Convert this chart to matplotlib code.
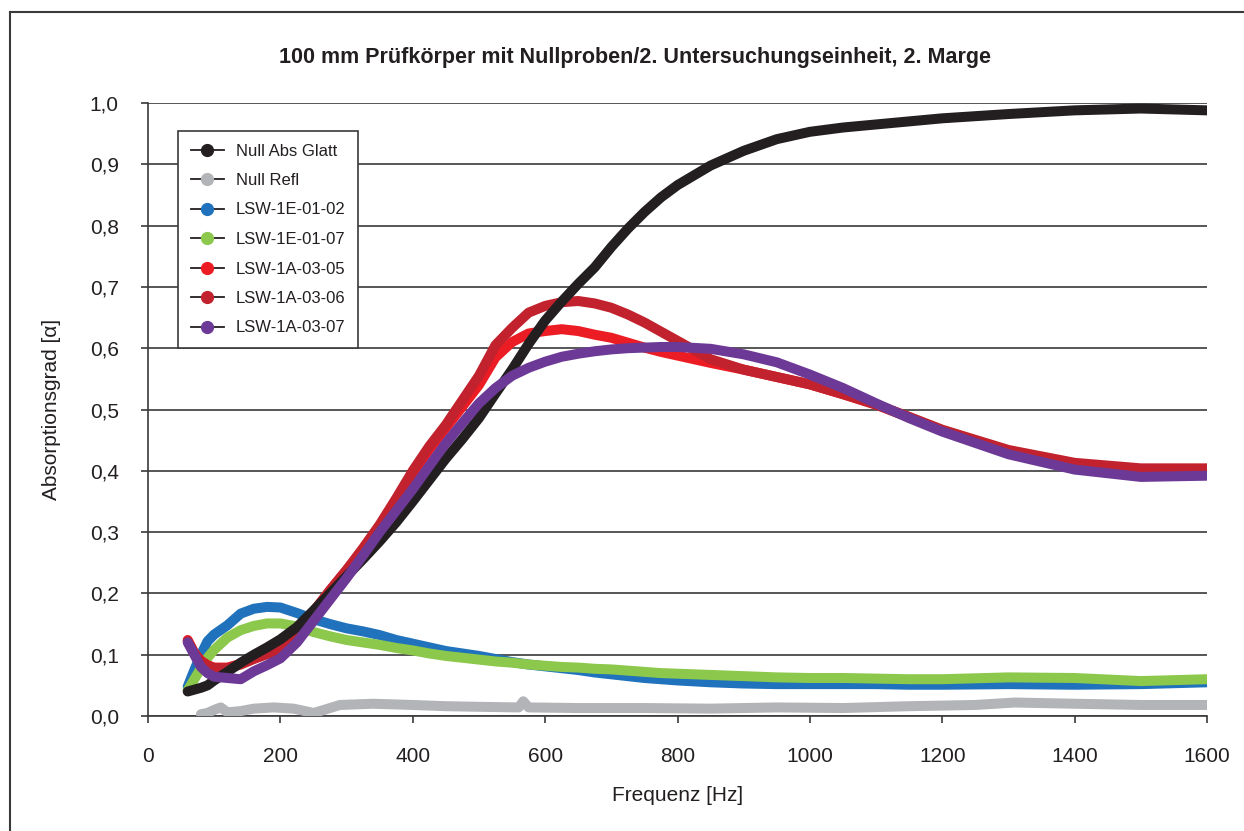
import matplotlib
matplotlib.use("Agg")
import matplotlib.pyplot as plt
from matplotlib.lines import Line2D

plt.rcParams['font.family'] = ['Liberation Sans', 'DejaVu Sans']

# Frequency grid [Hz] shared by the sample series
FREQ = [60, 70, 80, 90, 100, 120, 140, 160, 180, 200, 225, 250, 275, 300, 325, 350,
        375, 400, 425, 450, 475, 500, 525, 550, 575, 600, 625, 650, 675, 700, 725,
        750, 775, 800, 850, 900, 950, 1000, 1050, 1100, 1150, 1200, 1300, 1400,
        1500, 1600]

NULL_ABS_GLATT = [0.040, 0.043, 0.046, 0.050, 0.058, 0.072, 0.087, 0.100, 0.112, 0.125,
                  0.145, 0.172, 0.200, 0.228, 0.256, 0.285, 0.316, 0.350, 0.385, 0.420,
                  0.452, 0.486, 0.526, 0.565, 0.607, 0.645, 0.676, 0.705, 0.732, 0.765,
                  0.795, 0.822, 0.846, 0.866, 0.898, 0.922, 0.941, 0.953, 0.960, 0.965,
                  0.970, 0.975, 0.982, 0.988, 0.991, 0.988]

LSW_1E_01_02 = [0.048, 0.075, 0.100, 0.122, 0.133, 0.148, 0.167, 0.175, 0.178, 0.177,
                0.168, 0.158, 0.150, 0.143, 0.138, 0.132, 0.124, 0.118, 0.112, 0.106,
                0.102, 0.098, 0.093, 0.088, 0.084, 0.081, 0.078, 0.075, 0.071, 0.068,
                0.065, 0.062, 0.060, 0.058, 0.055, 0.053, 0.052, 0.052, 0.052, 0.052,
                0.051, 0.051, 0.052, 0.051, 0.052, 0.055]

LSW_1E_01_07 = [0.042, 0.060, 0.078, 0.095, 0.108, 0.128, 0.140, 0.147, 0.151, 0.151,
                0.146, 0.137, 0.130, 0.124, 0.120, 0.116, 0.111, 0.107, 0.102, 0.098,
                0.095, 0.092, 0.089, 0.087, 0.084, 0.082, 0.080, 0.079, 0.077, 0.076,
                0.074, 0.072, 0.070, 0.069, 0.067, 0.065, 0.063, 0.062, 0.062, 0.061,
                0.060, 0.060, 0.063, 0.062, 0.057, 0.060]

LSW_1A_03_05 = [0.124, 0.103, 0.090, 0.083, 0.079, 0.079, 0.085, 0.094, 0.102, 0.106,
                0.135, 0.170, 0.205, 0.238, 0.272, 0.310, 0.350, 0.395, 0.435, 0.470,
                0.505, 0.540, 0.585, 0.610, 0.624, 0.628, 0.631, 0.628, 0.622, 0.617,
                0.609, 0.601, 0.594, 0.588, 0.576, 0.565, 0.553, 0.541, 0.525, 0.508,
                0.487, 0.466, 0.432, 0.411, 0.402, 0.402]

LSW_1A_03_06 = [0.122, 0.102, 0.089, 0.082, 0.078, 0.078, 0.084, 0.093, 0.101, 0.106,
                0.135, 0.170, 0.205, 0.238, 0.274, 0.312, 0.355, 0.400, 0.440, 0.475,
                0.515, 0.555, 0.605, 0.633, 0.658, 0.669, 0.675, 0.677, 0.673, 0.666,
                0.655, 0.642, 0.627, 0.612, 0.582, 0.565, 0.553, 0.541, 0.525, 0.508,
                0.488, 0.467, 0.434, 0.413, 0.404, 0.404]

LSW_1A_03_07 = [0.120, 0.100, 0.080, 0.070, 0.064, 0.062, 0.060, 0.073, 0.083, 0.094,
                0.120, 0.155, 0.190, 0.225, 0.262, 0.300, 0.335, 0.370, 0.408, 0.445,
                0.478, 0.510, 0.535, 0.555, 0.568, 0.578, 0.586, 0.591, 0.595, 0.598,
                0.600, 0.601, 0.602, 0.602, 0.599, 0.590, 0.577, 0.557, 0.535, 0.510,
                0.486, 0.464, 0.427, 0.402, 0.390, 0.392]

# Reflection series has its own frequency sampling
FREQ_REFL = [80, 90, 100, 110, 120, 140, 160, 190, 220, 250, 260, 290, 340, 400, 450,
             500, 560, 567, 575, 650, 750, 850, 950, 1050, 1150, 1250, 1310, 1400,
             1500, 1600]
NULL_REFL = [0.003, 0.005, 0.010, 0.014, 0.006, 0.008, 0.012, 0.014, 0.012, 0.005,
             0.008, 0.018, 0.020, 0.018, 0.016, 0.015, 0.014, 0.024, 0.014, 0.013,
             0.013, 0.012, 0.014, 0.013, 0.016, 0.018, 0.022, 0.020, 0.018, 0.018]

SERIES = [
    ("Null Abs Glatt", FREQ, NULL_ABS_GLATT, "#231f20"),
    ("Null Refl", FREQ_REFL, NULL_REFL, "#b3b4b7"),
    ("LSW-1E-01-02", FREQ, LSW_1E_01_02, "#1f72bb"),
    ("LSW-1E-01-07", FREQ, LSW_1E_01_07, "#8cc84b"),
    ("LSW-1A-03-05", FREQ, LSW_1A_03_05, "#ec1c24"),
    ("LSW-1A-03-06", FREQ, LSW_1A_03_06, "#c2222d"),
    ("LSW-1A-03-07", FREQ, LSW_1A_03_07, "#6d3996"),
]
# stacking order of the curves (higher is drawn on top)
ZORDER = {"Null Refl": 3.0, "LSW-1E-01-02": 3.1, "LSW-1E-01-07": 3.2,
          "LSW-1A-03-05": 3.3, "LSW-1A-03-06": 3.4, "Null Abs Glatt": 3.5,
          "LSW-1A-03-07": 3.6}

XTICKS = [0, 200, 400, 600, 800, 1000, 1200, 1400, 1600]
YTICKS = [0.0, 0.1, 0.2, 0.3, 0.4, 0.5, 0.6, 0.7, 0.8, 0.9, 1.0]

W, H = 1244, 831
fig = plt.figure(figsize=(W / 100, H / 100), dpi=100)
ax = fig.add_axes([148 / W, 1 - 716 / H, (1207 - 148) / W, (716 - 103) / H])

axis_col = "#3a3a3a"
for name, fx, fy, col in SERIES:
    ax.plot(fx, fy, color=col, lw=7.2, solid_capstyle="round",
            solid_joinstyle="round", zorder=ZORDER[name])

ax.set_xlim(0, 1600)
ax.set_ylim(0, 1.0)
ax.set_xticks(XTICKS)
ax.set_yticks(YTICKS)
ax.set_yticklabels([f"{v:.1f}".replace(".", ",") for v in YTICKS])
ax.grid(axis="y", color=axis_col, lw=1.2)
ax.set_axisbelow(True)
for s in ("top", "right"):
    ax.spines[s].set_visible(False)
for s in ("left", "bottom"):
    ax.spines[s].set_color(axis_col)
    ax.spines[s].set_linewidth(1.2)
ax.tick_params(axis="both", direction="out", length=5, width=1.2,
               color=axis_col, labelsize=15, labelcolor="#231f20")
ax.tick_params(axis="y", pad=16)
ax.tick_params(axis="x", pad=17)

ax.set_xlabel("Frequenz [Hz]", fontsize=15, color="#231f20", labelpad=15)
ax.set_ylabel("Absorptionsgrad [α]", fontsize=15, color="#231f20", labelpad=21)

fig.text(635 / W, 1 - 58 / H,
         "100 mm Prüfkörper mit Nullproben/2. Untersuchungseinheit, 2. Marge",
         ha="center", va="center", fontsize=15.5, fontweight="bold", color="#231f20")

handles = [Line2D([], [], color="#231f20", lw=1.3, marker="o", markersize=8.5,
                  markerfacecolor=col, markeredgecolor=col)
           for _, _, _, col in SERIES]
labels = [name for name, _, _, _ in SERIES]
leg = ax.legend(handles, labels, loc="upper left",
                bbox_to_anchor=((178 - 148) / 1059, (716 - 131) / 613),
                borderaxespad=0, fontsize=12, frameon=True, fancybox=False,
                edgecolor=axis_col, framealpha=1, labelspacing=0.87,
                handlelength=2.0, handletextpad=0.7, borderpad=0.75)
leg.get_frame().set_linewidth(1.2)
leg.set_zorder(10)
for t in leg.get_texts():
    t.set_color("#231f20")

# outer frame of the figure
fig.add_artist(Line2D([10 / W, 10 / W], [0, 1 - 12 / H], color="#3a3a3a", lw=1.5))
fig.add_artist(Line2D([10 / W, 1], [1 - 12 / H, 1 - 12 / H], color="#3a3a3a", lw=1.5))

fig.savefig("out.png", dpi=100)
